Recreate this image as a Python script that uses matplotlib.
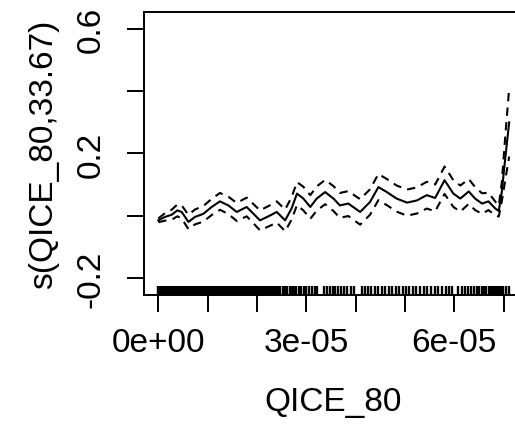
import numpy as np
import matplotlib.pyplot as plt

plt.rcParams['font.family'] = ['Liberation Sans', 'DejaVu Sans']

# smooth term s(QICE_80), x in units of 1e-5
qice_x = [0.00, 0.136, 0.27, 0.386, 0.474, 0.61, 0.744, 0.913, 1.08, 1.25, 1.42, 1.59,
          1.79, 1.93, 2.06, 2.27, 2.40, 2.57, 2.70, 2.81, 2.94, 3.08, 3.21, 3.38,
          3.55, 3.68, 3.85, 4.09, 4.29, 4.46, 4.63, 4.83, 5.04, 5.24, 5.44, 5.61,
          5.80, 5.98, 6.12, 6.29, 6.42, 6.56, 6.69, 6.83, 6.90, 6.96, 7.03, 7.11]
fit = [-0.015, -0.004, 0.003, 0.017, 0.012, -0.020, -0.004, 0.006, 0.028, 0.046, 0.033, 0.012,
       0.028, 0.006, -0.015, 0.001, 0.012, -0.015, 0.023, 0.071, 0.055, 0.028, 0.055, 0.076,
       0.055, 0.033, 0.039, 0.012, 0.044, 0.092, 0.076, 0.055, 0.042, 0.049, 0.066, 0.057,
       0.114, 0.071, 0.055, 0.078, 0.055, 0.039, 0.046, 0.023, 0.015, 0.076, 0.184, 0.300]
se = [0.006, 0.012, 0.016, 0.019, 0.021, 0.023, 0.024, 0.025, 0.026, 0.027, 0.028, 0.029,
      0.030, 0.031, 0.032, 0.033, 0.034, 0.035, 0.036, 0.037, 0.038, 0.038, 0.039, 0.039,
      0.040, 0.040, 0.040, 0.041, 0.041, 0.042, 0.042, 0.042, 0.042, 0.042, 0.043, 0.043,
      0.044, 0.043, 0.042, 0.040, 0.037, 0.033, 0.028, 0.022, 0.018, 0.030, 0.070, 0.110]

# rug of observed QICE_80 values (1e-5)
rug_x = [0.00, 0.01, 0.03, 0.04, 0.06, 0.07, 0.09, 0.10, 0.12, 0.14, 0.15, 0.17, 0.19, 0.20,
         0.22, 0.24, 0.25, 0.27, 0.29, 0.31, 0.32, 0.34, 0.36, 0.38, 0.40, 0.41, 0.43, 0.45,
         0.47, 0.49, 0.51, 0.53, 0.55, 0.57, 0.59, 0.61, 0.63, 0.65, 0.67, 0.69, 0.71, 0.73,
         0.75, 0.77, 0.80, 0.82, 0.84, 0.86, 0.88, 0.91, 0.93, 0.95, 0.97, 1.00, 1.03, 1.06,
         1.08, 1.11, 1.14, 1.17, 1.20, 1.23, 1.26, 1.29, 1.32, 1.35, 1.38, 1.41, 1.44, 1.47,
         1.50, 1.53, 1.57, 1.60, 1.63, 1.67, 1.70, 1.73, 1.77, 1.80, 1.84, 1.88, 1.91, 1.95,
         1.99, 2.02, 2.06, 2.10, 2.14, 2.18, 2.22, 2.26, 2.30, 2.34, 2.39, 2.43, 2.47, 2.52,
         2.56, 2.61, 2.66, 2.70, 2.75, 2.80, 2.85, 2.90, 2.95, 3.00, 3.06, 3.11, 3.17, 3.22,
         3.36, 3.41, 3.47, 3.53, 3.59, 3.65, 3.71, 3.77, 3.83, 3.90, 3.96, 4.12, 4.19, 4.25,
         4.32, 4.39, 4.46, 4.53, 4.60, 4.67, 4.74, 4.81, 4.88, 4.95, 5.02, 5.09, 5.16, 5.23,
         5.31, 5.38, 5.45, 5.53, 5.60, 5.67, 5.74, 5.82, 5.89, 5.96, 6.08, 6.15, 6.22, 6.28,
         6.34, 6.40, 6.45, 6.50, 6.55, 6.60, 6.65, 6.70, 6.74, 6.78, 6.82, 6.86, 6.90, 6.93,
         6.96, 6.99, 7.05, 7.11]

x_ticks = [0, 1, 2, 3, 4, 5, 6, 7]
x_labels = ['0e+00', '', '', '3e-05', '', '', '6e-05', '']
y_ticks = [-0.2, 0.0, 0.2, 0.4, 0.6]
y_labels = ['-0.2', '', '0.2', '', '0.6']

x = np.array(qice_x) * 1e-5
fit = np.array(fit)
se = np.array(se)

fig = plt.figure(figsize=(5.15, 4.27), dpi=100)
ax = fig.add_axes([0.2796, 0.3068, 0.734, 0.6628])

ax.plot(x, fit, color='black', lw=1.5)
ax.plot(x, fit + se, color='black', lw=1.5, ls=(0, (4, 3)))
ax.plot(x, fit - se, color='black', lw=1.5, ls=(0, (4, 3)))

# rug along the bottom
ax.vlines(np.array(rug_x) * 1e-5, 0, 0.032, transform=ax.get_xaxis_transform(),
          color='black', lw=1.7)

ax.set_xlim(-0.29e-5, 7.37e-5)
ax.set_ylim(-0.255, 0.655)
ax.set_xticks(np.array(x_ticks) * 1e-5)
ax.set_xticklabels(x_labels)
ax.set_yticks(y_ticks)
ax.set_yticklabels(y_labels, rotation=90, va='center')

for s in ax.spines.values():
    s.set_linewidth(1.4)
ax.tick_params(length=12, width=1.4, labelsize=24)
ax.tick_params(axis='x', pad=11)
ax.tick_params(axis='y', pad=15)
ax.set_xlabel('QICE_80', fontsize=24, labelpad=20)
ax.set_ylabel('s(QICE_80,33.67)', fontsize=24, labelpad=12)

fig.savefig('out.png', dpi=100)
